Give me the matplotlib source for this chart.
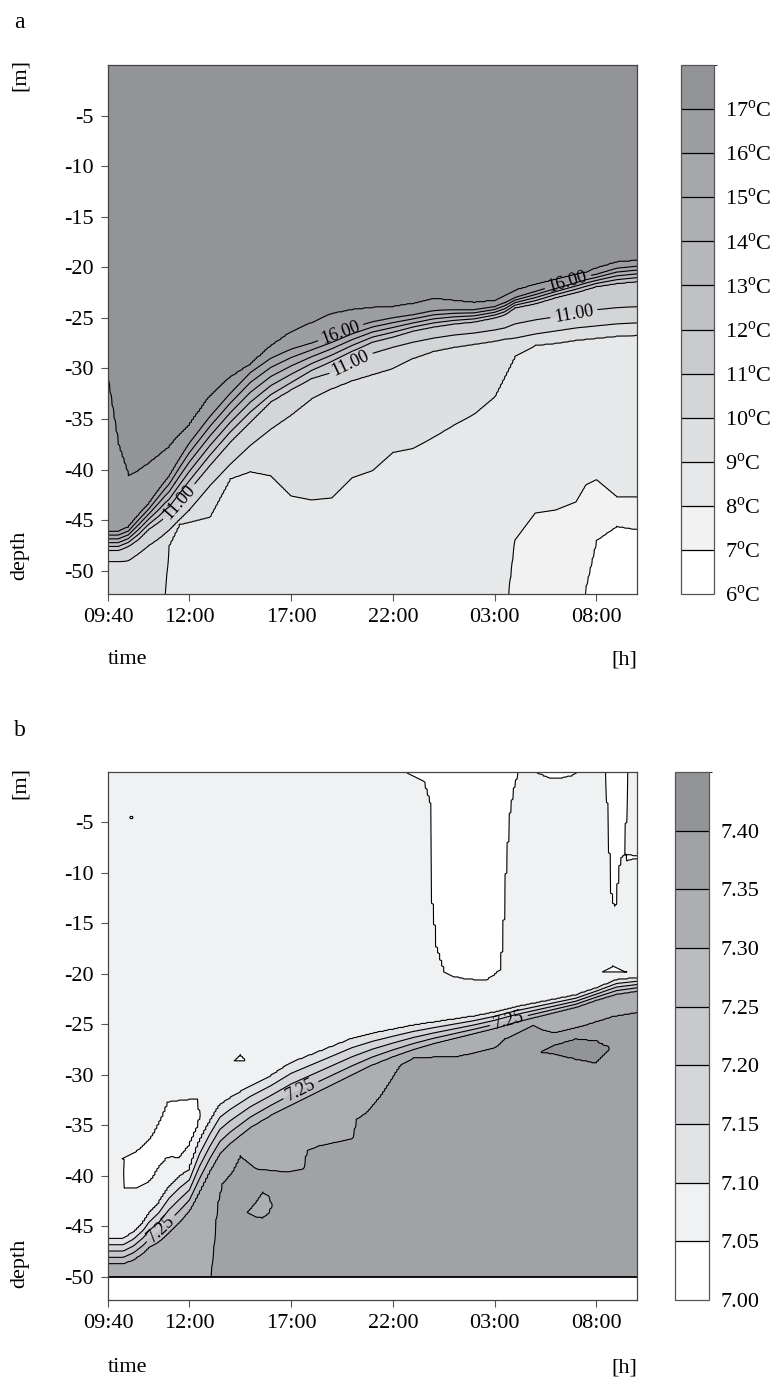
import numpy as np
import matplotlib
matplotlib.use("Agg")
import matplotlib.pyplot as plt
from matplotlib.colors import ListedColormap, BoundaryNorm

plt.rcParams['font.family'] = ['Liberation Serif', 'DejaVu Serif']
plt.rcParams['mathtext.fontset'] = 'custom'
plt.rcParams['mathtext.rm'] = 'Liberation Serif'

nan = np.nan

# ---------------- shared axis data ----------------
TIME_TICKS = [0, 4, 9, 14, 19, 24]
TIME_LABELS = ['09:40', '12:00', '17:00', '22:00', '03:00', '08:00']
DEPTH_TICKS = [-5, -10, -15, -20, -25, -30, -35, -40, -45, -50]

# ---------------- panel a: isotherm depths [m] (positive down) ----------------
TIME_A = [0, 0.5, 1, 1.5, 2, 2.5, 2.8, 3, 3.5, 4, 5, 6, 7, 8, 9, 10, 11, 12, 13,
          14, 15, 16, 17, 18, 19, 19.5, 20, 21, 22, 23, 23.5, 24, 25, 26]
D17 = [31.1, 37.5, 40.6, 40.1, 39.4, 38.6, 38.1, 37.8, 36.6, 35.6, 32.8, 30.9, 29.6,
       27.8, 26.4, 25.5, 24.6, 24.2, 24.0, 23.9, 23.6, 23.1, 23.3, 23.5, 23.3, 22.8,
       22.3, 21.7, 21.2, 20.7, 20.5, 20.1, 19.5, 19.35]
D16 = [46.1, 46.1, 45.7, 44.5, 43.4, 42.0, 41.2, 40.7, 39.0, 37.4, 34.8, 32.5, 30.4,
       29.0, 28.1, 27.5, 26.8, 26.0, 25.4, 25.0, 24.7, 24.3, 24.2, 24.2, 23.9, 23.5,
       23.0, 22.4, 21.8, 21.2, 20.9, 20.7, 20.1, 19.9]
D12 = [47.6, 47.6, 47.2, 46.4, 45.4, 44.6, 44.0, 43.7, 42.4, 41.1, 38.6, 36.3, 34.3,
       32.6, 31.4, 30.2, 29.3, 28.3, 27.4, 26.9, 26.3, 25.9, 25.6, 25.4, 25.0, 24.7,
       24.0, 23.6, 23.0, 22.5, 22.2, 21.9, 21.6, 21.4]
D11 = [48.0, 48.0, 47.6, 46.9, 45.9, 45.2, 44.7, 44.4, 43.2, 42.0, 39.6, 37.3, 35.3,
       33.3, 32.1, 31.0, 30.4, 29.4, 28.5, 27.9, 27.4, 27.0, 26.7, 26.5, 26.2, 26.0,
       25.6, 25.2, 24.9, 24.6, 24.4, 24.2, 24.0, 23.9]
D10 = [49.1, 49.1, 49.0, 48.3, 47.5, 46.8, 46.3, 46.0, 45.0, 44.0, 41.6, 39.5, 37.6,
       36.0, 34.6, 33.0, 32.0, 31.2, 30.6, 30.0, 29.0, 28.3, 27.9, 27.6, 27.3, 27.1,
       27.0, 26.6, 26.3, 26.0, 25.9, 25.8, 25.6, 25.5]
D9 = [nan, nan, nan, nan, nan, nan, 52.8, 47.5, 45.4, 45.2, 44.7, 40.9, 40.2,
      40.6, 42.6, 43.0, 42.8, 40.8, 40.1, 38.3, 37.9, 36.8, 35.6, 34.5, 32.8, 30.8,
      28.8, 27.7, 27.5, 27.2, 27.1, 27.0, 26.8, 26.7]
D8 = [nan] * 26 + [47.0, 44.3, 44.0, 43.2, 41.5, 41.0, 42.7, 42.7]
D7 = [nan] * 30 + [51.5, 47.0, 45.6, 45.9]
TEMP_LEVELS = [6, 7, 8, 9, 10, 11, 12, 13, 14, 15, 16, 17, 18]
TEMP_TICKS = [6, 7, 8, 9, 10, 11, 12, 13, 14, 15, 16, 17]

# ---------------- panel b: iso-line depths [m] ----------------
TIME_B = [0, 0.75, 1.25, 1.75, 2, 2.5, 3, 3.5, 4, 4.5, 5, 5.5, 6, 7, 8, 9, 10, 11,
          12, 13, 14, 15, 16, 17, 18, 19, 20, 21, 22, 23, 24, 25, 26]
B710 = [46.2, 46.2, 45.6, 44.6, 43.8, 42.7, 41.1, 40.1, 39.4, 36.6, 34.7, 33.0, 32.3,
        31.1, 30.1, 28.8, 28.0, 27.2, 26.4, 25.9, 25.5, 25.1, 24.8, 24.5, 24.2, 23.8,
        23.3, 22.9, 22.5, 22.1, 21.4, 20.6, 20.4]
B730 = [48.7, 48.7, 48.3, 47.6, 47.1, 46.5, 45.6, 44.6, 43.4, 41.5, 39.5, 37.8, 36.8,
        35.2, 34.0, 33.0, 32.0, 31.0, 30.0, 29.0, 28.2, 27.5, 26.9, 26.4, 25.9, 25.4,
        24.8, 24.3, 23.8, 23.3, 22.6, 22.0, 21.7]
TIME_B735 = [0, 4.9, 5.0, 5.2, 5.35, 5.6, 6.1, 6.5, 7.3, 8.8, 9.6, 9.75, 10.4, 11.1,
             12.0, 12.2, 12.7, 13.4, 14.35, 15, 16, 17, 18, 19, 19.5, 20, 20.9, 21.2,
             21.9, 23.2, 24.8, 26]
B735 = [nan, nan, 51.0, 47.0, 43.0, 40.8, 39.6, 38.0, 39.3, 39.6, 39.3, 37.5, 37.0,
        36.7, 36.3, 34.4, 33.7, 32.0, 29.0, 28.3, 28.2, 28.2, 27.8, 27.3, 26.4, 26.0,
        25.1, 25.4, 25.8, 25.2, 24.2, 23.8]

# low (< 7.05) patches: times, top depth, bottom depth
LOW_BIG_T = [14.6, 15.0, 15.5, 15.8, 15.9, 16.1, 16.5, 17.0, 17.5, 18.0, 18.6, 19.0,
             19.3, 19.45, 19.6, 19.8, 20.0, 20.2]
LOW_BIG_BOT = [0.0, 0.4, 0.9, 3.0, 13.0, 17.3, 19.9, 20.3, 20.5, 20.6, 20.6, 20.2,
               19.6, 17.0, 10.0, 4.0, 1.5, 0.0]
LOW_TOP2_T = [21.0, 21.6, 22.2, 22.8, 23.1]
LOW_TOP2_BOT = [0.0, 0.6, 0.7, 0.4, 0.0]
LOW_STRIP_T = [24.45, 24.55, 24.7, 24.85, 25.0, 25.15, 25.25, 25.4, 25.5, 25.6]
LOW_STRIP_BOT = [0.0, 6.0, 12.0, 13.5, 13.2, 10.0, 8.5, 8.3, 5.0, 0.0]
LOW_BRIDGE_T = [25.45, 25.75, 26.0]
LOW_BRIDGE_TOP = [8.1, 8.2, 8.3]
LOW_BRIDGE_BOT = [8.9, 8.7, 8.6]
LOW_LEFT_T = [0.7, 0.8, 1.4, 2.0, 2.2, 2.5, 2.9, 3.1, 3.5, 4.0, 4.4, 4.55]
LOW_LEFT_TOP = [38.3, 38.2, 37.5, 36.4, 35.8, 34.6, 32.7, 32.6, 32.5, 32.4, 32.4, 34.0]
LOW_LEFT_BOT = [38.4, 41.3, 41.3, 40.6, 40.3, 39.2, 38.3, 38.1, 38.3, 37.0, 35.2, 34.1]
LOW_S1_T = [6.2, 6.5, 6.8]
LOW_S1_TOP = [28.6, 28.0, 28.6]
LOW_S1_BOT = [28.7, 28.7, 28.7]
LOW_S2_T = [24.3, 24.8, 25.5]
LOW_S2_TOP = [19.8, 19.2, 19.8]
LOW_S2_BOT = [19.9, 19.9, 19.9]
LOW_S3_T = [1.05, 1.15, 1.25]
LOW_S3_TOP = [4.5, 4.3, 4.5]
LOW_S3_BOT = [4.55, 4.7, 4.55]
# high (> 7.40) patch
HIGH_P1_T = [21.3, 22.0, 23.0, 24.0, 24.7]
HIGH_P1_TOP = [27.7, 27.0, 26.4, 26.6, 27.3]
HIGH_P1_BOT = [27.8, 28.0, 28.5, 28.9, 27.4]
# lighter (< 7.35) patch inside deep water
MID_L1_T = [6.9, 7.3, 7.6, 7.9, 8.05]
MID_L1_TOP = [43.5, 42.5, 41.6, 42.0, 42.9]
MID_L1_BOT = [43.7, 44.1, 44.2, 43.8, 43.0]
PH_LEVELS = [7.00, 7.05, 7.10, 7.15, 7.20, 7.25, 7.30, 7.35, 7.40, 7.45]
PH_TICKS = [7.00, 7.05, 7.10, 7.15, 7.20, 7.25, 7.30, 7.35, 7.40]

# label anchor points (time, height)
LABELS_A16 = [(11.4, -26.2), (22.55, -21.0)]
LABELS_A11 = [(3.3, -43.0), (11.9, -29.3), (22.9, -24.6)]
LABELS_B725 = [(2.8, -45.6), (9.4, -31.2), (19.7, -24.6)]

# ---------------- styles ----------------
COLORS_A = ['#ffffff', '#f2f2f3', '#e7e8e9', '#dedfe1', '#d4d5d7', '#cacbce',
            '#c0c1c4', '#b7b8bb', '#aeafb3', '#a6a7ab', '#9d9ea2', '#939498']
COLORS_B = ['#ffffff', '#f0f1f3', '#e2e3e5', '#d5d6d9', '#c8c9cc', '#bbbcbf',
            '#adaeb2', '#a1a2a6', '#939498']
FS = 16
W, H = 775, 1377
LW = 0.8

tf = np.linspace(0, 26, 261)


def on_grid(times, vals, absent):
    v = np.array(vals, float)
    v = np.where(np.isnan(v), absent, v)
    return np.interp(tf, times, v)


# ---------------- build field a ----------------
za = np.linspace(0, 52.3, 524)
A17 = on_grid(TIME_A, D17, 0)
A16 = on_grid(TIME_A, D16, 0)
A12 = on_grid(TIME_A, D12, 0)
A11 = on_grid(TIME_A, D11, 0)
A10 = on_grid(TIME_A, D10, 0)
A9 = on_grid(TIME_A, D9, 54.0)
A8 = on_grid(TIME_A, D8, 56.0)
A7 = on_grid(TIME_A, D7, 58.0)
Va = np.empty((za.size, tf.size))
for j in range(tf.size):
    xp = [0, A17[j], A16[j], A12[j], A11[j], A10[j], A9[j], A8[j], A7[j], 70]
    fp = [17.5, 17, 16, 12, 11, 10, 9, 8, 7, 6.5]
    Va[:, j] = np.interp(za, xp, fp)

# ---------------- build field b ----------------
zb = np.linspace(0, 50, 501)
L710 = on_grid(TIME_B, B710, 0)
L730 = on_grid(TIME_B, B730, 0)
L735 = on_grid(TIME_B735, B735, 56.0)
Vb = np.empty((zb.size, tf.size))
for j in range(tf.size):
    Vb[:, j] = np.interp(zb, [0, L710[j], L730[j], L735[j], 62],
                         [7.075, 7.10, 7.30, 7.35, 7.38])


def patch(times, tops, bots, edge, peak, mode, surface=False):
    sel = (tf >= times[0]) & (tf <= times[-1])
    bt = np.interp(tf, times, bots)
    tp = -bt if surface else np.interp(tf, times, tops)
    for j in np.where(sel)[0]:
        if bt[j] - tp[j] <= 0.01:
            continue
        mid = 0.5 * (tp[j] + bt[j])
        prof = np.interp(zb, [tp[j], mid, bt[j]], [edge, peak, edge],
                         left=np.nan, right=np.nan)
        m = ~np.isnan(prof)
        if mode == 'min':
            Vb[m, j] = np.minimum(Vb[m, j], prof[m])
        else:
            Vb[m, j] = np.maximum(Vb[m, j], prof[m])


patch(LOW_BIG_T, None, LOW_BIG_BOT, 7.05, 7.03, 'min', surface=True)
patch(LOW_TOP2_T, None, LOW_TOP2_BOT, 7.05, 7.03, 'min', surface=True)
patch(LOW_STRIP_T, None, LOW_STRIP_BOT, 7.05, 7.03, 'min', surface=True)
patch(LOW_BRIDGE_T, LOW_BRIDGE_TOP, LOW_BRIDGE_BOT, 7.05, 7.04, 'min')
patch(LOW_LEFT_T, LOW_LEFT_TOP, LOW_LEFT_BOT, 7.05, 7.03, 'min')
patch(LOW_S1_T, LOW_S1_TOP, LOW_S1_BOT, 7.05, 7.04, 'min')
patch(LOW_S2_T, LOW_S2_TOP, LOW_S2_BOT, 7.05, 7.04, 'min')
patch(LOW_S3_T, LOW_S3_TOP, LOW_S3_BOT, 7.05, 7.04, 'min')
patch(HIGH_P1_T, HIGH_P1_TOP, HIGH_P1_BOT, 7.40, 7.42, 'max')
patch(MID_L1_T, MID_L1_TOP, MID_L1_BOT, 7.35, 7.34, 'min')

# ---------------- figure ----------------
fig = plt.figure(figsize=(W / 100, H / 100), dpi=100)


def fr(x0, y0, x1, y1):
    return [x0 / W, 1 - y1 / H, (x1 - x0) / W, (y1 - y0) / H]


axa = fig.add_axes(fr(108, 65, 637, 594))
caxa = fig.add_axes(fr(681, 65, 714, 594))
axb = fig.add_axes(fr(108, 772, 637, 1300))
caxb = fig.add_axes(fr(675, 772, 709, 1300))


def lab(ax, x, y, v, level, spots):
    cs = ax.contour(x, y, v, levels=[level], colors='black', linewidths=LW)
    ax.clabel(cs, fmt=lambda q: f'{q:.2f}', fontsize=13, inline=True,
              inline_spacing=4, manual=spots)


cmap_a = ListedColormap(COLORS_A)
norm_a = BoundaryNorm(TEMP_LEVELS, cmap_a.N)
cfa = axa.contourf(tf, -za, Va, levels=TEMP_LEVELS, cmap=cmap_a, norm=norm_a)
axa.contour(tf, -za, Va, levels=[l for l in TEMP_LEVELS[1:-1] if l not in (11, 16)],
            colors='black', linewidths=LW)
lab(axa, tf, -za, Va, 16, LABELS_A16)
lab(axa, tf, -za, Va, 11, LABELS_A11)

cmap_b = ListedColormap(COLORS_B)
norm_b = BoundaryNorm(PH_LEVELS, cmap_b.N)
cfb = axb.contourf(tf, -zb, Vb, levels=PH_LEVELS, cmap=cmap_b, norm=norm_b)
axb.contour(tf, -zb, Vb, levels=[l for l in PH_LEVELS[1:-1] if abs(l - 7.25) > 1e-9],
            colors='black', linewidths=LW)
lab(axb, tf, -zb, Vb, 7.25, LABELS_B725)
axb.axhline(-50, color='black', lw=1.3)

for ax in (axa, axb):
    ax.set_xlim(0, 26)
    ax.set_ylim(-52.3, 0)
    ax.set_xticks(TIME_TICKS)
    ax.set_xticklabels(TIME_LABELS)
    ax.set_yticks(DEPTH_TICKS)
    ax.set_yticklabels([str(v) for v in DEPTH_TICKS])
    ax.tick_params(direction='out', length=5, width=0.8, color='#555555',
                   labelsize=FS, pad=5)
    for s in ax.spines.values():
        s.set_linewidth(0.9)
        s.set_color('#444444')

cba = fig.colorbar(cfa, cax=caxa, ticks=TEMP_TICKS, drawedges=True)
cba.ax.set_yticklabels([f'{v}' + r'$^{\rm o}$C' for v in TEMP_TICKS])
cbb = fig.colorbar(cfb, cax=caxb, ticks=PH_TICKS, drawedges=True)
cbb.ax.set_yticklabels([f'{v:.2f}' for v in PH_TICKS])
for cb in (cba, cbb):
    cb.ax.tick_params(length=0, labelsize=FS, pad=8)
    cb.outline.set_edgecolor('#555555')
    cb.outline.set_linewidth(0.9)
    cb.dividers.set_color('black')
    cb.dividers.set_linewidth(0.9)

# panel letters and axis captions
for top, letter in ((0, 'a'), (708, 'b')):
    fig.text(14 / W, 1 - (top + 22) / H, letter, fontsize=FS + 1, va='center')
    fig.text(20 / W, 1 - (top + 75) / H, '[m]', fontsize=FS, rotation=90,
             ha='center', va='center')
    fig.text(20 / W, 1 - (top + 555) / H, 'depth', fontsize=FS, rotation=90,
             ha='center', va='center')
    fig.text(108 / W, 1 - (top + 660) / H, 'time', fontsize=FS, ha='left',
             va='center')
    fig.text(637 / W, 1 - (top + 660) / H, '[h]', fontsize=FS, ha='right',
             va='center')

fig.savefig('out.png', dpi=100)
